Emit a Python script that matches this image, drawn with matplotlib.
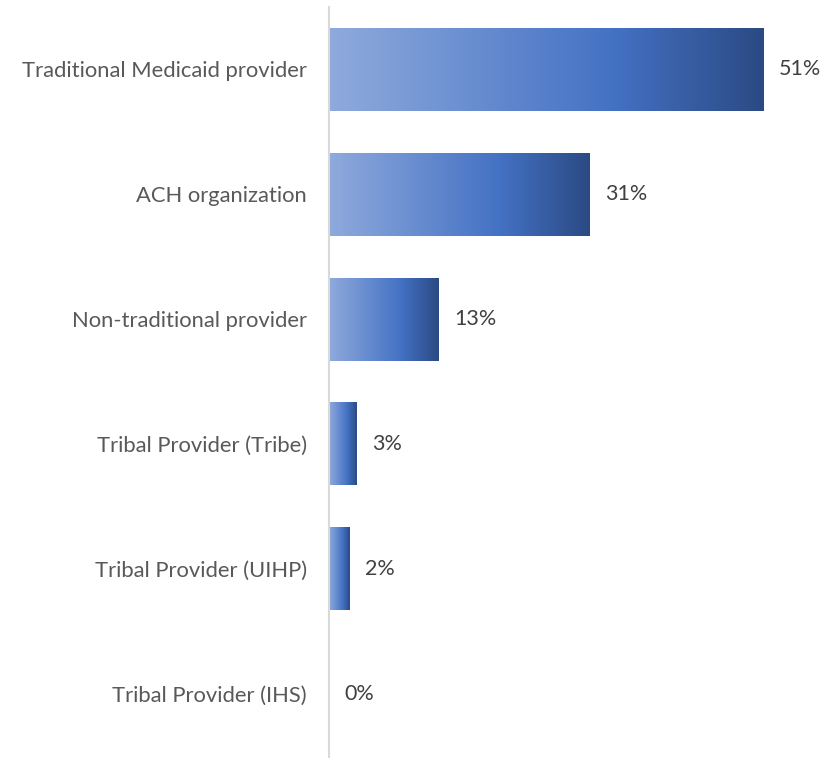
import numpy as np
import matplotlib.pyplot as plt
from matplotlib.colors import LinearSegmentedColormap

categories = ['Traditional Medicaid provider', 'ACH organization', 'Non-traditional provider',
              'Tribal Provider (Tribe)', 'Tribal Provider (UIHP)', 'Tribal Provider (IHS)']
values = [51.0, 30.6, 12.9, 3.2, 2.4, 0.0]

cmap = LinearSegmentedColormap.from_list('grad', [(0, '#8faadc'), (0.65, '#4472c4'), (1, '#2b4a84')])

fig = plt.figure(figsize=(8.37, 7.58), dpi=100)
ax = fig.add_axes([329 / 837, 1 - 756.5 / 758, (823 - 329) / 837, 750 / 758])

h = 0.664
grad = np.linspace(0, 1, 256).reshape(1, -1)
for i, v in enumerate(values):
    if v > 0:
        ax.imshow(grad, cmap=cmap, aspect='auto', extent=(0, v, i + h / 2, i - h / 2), zorder=2)
    ax.text(v + 1.85, i, f'{v:.0f}%', va='center', ha='left', fontsize=15.5, color='#404040', family='Lato')

ax.set_xlim(0, 58)
ax.set_ylim(len(values) - 0.5, -0.5)
ax.set_yticks(range(len(values)))
ax.set_yticklabels(categories, fontsize=15.8, color='#595959', family='Lato')
ax.tick_params(axis='y', length=0, pad=16)
ax.set_xticks([])
for s in ['top', 'right', 'bottom']:
    ax.spines[s].set_visible(False)
ax.spines['left'].set_color('#d9d9d9')
ax.spines['left'].set_linewidth(1.5)

fig.savefig('out.png', dpi=100)
